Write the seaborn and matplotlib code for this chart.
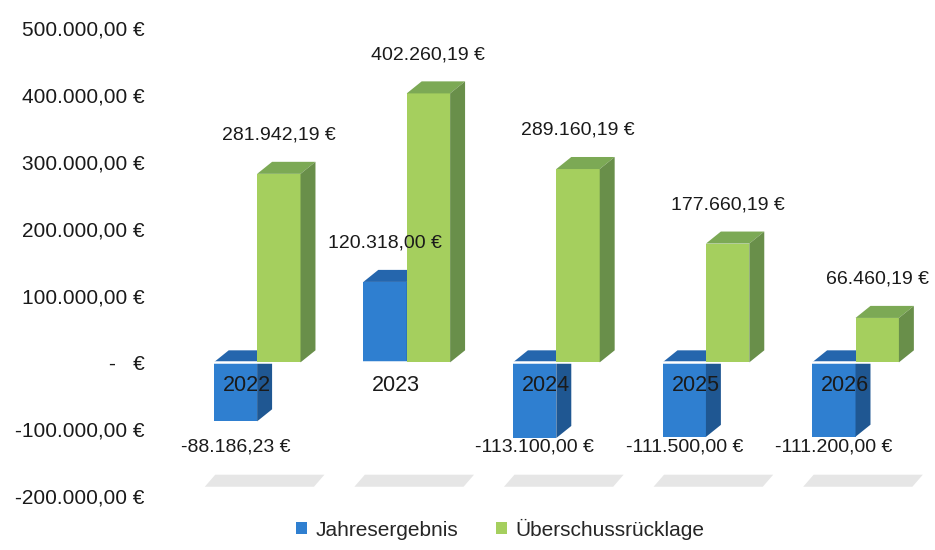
import numpy as np
import matplotlib
matplotlib.use("Agg")
import matplotlib.pyplot as plt
from matplotlib.patches import Polygon
import pandas as pd
import seaborn as sns

years = ["2022", "2023", "2024", "2025", "2026"]
jahresergebnis = [-88186.23, 120318.00, -113100.00, -111500.00, -111200.00]
ruecklage = [281942.19, 402260.19, 289160.19, 177660.19, 66460.19]
series = ["Jahresergebnis", "Überschussrücklage"]
yticks = [-200000, -100000, 0, 100000, 200000, 300000, 400000, 500000]

def eur(v):
    s = f"{abs(v):,.2f}".replace(",", "X").replace(".", ",").replace("X", ".")
    return ("-" if v < 0 else "") + s + " €"

def tick_fmt(v):
    if v == 0:
        return "-   €"
    return eur(v)

df = pd.DataFrame({
    "Jahr": years * 2,
    "Wert": jahresergebnis + ruecklage,
    "Reihe": [series[0]] * len(years) + [series[1]] * len(years),
})

sns.set_style("white")
plt.rcParams["font.family"] = ["Liberation Sans", "DejaVu Sans"]
txt = "#1a1a1a"

fig = plt.figure(figsize=(9.35, 5.5), dpi=100)
ax = fig.add_axes([0.195, 0.098, 0.80, 0.851])

front = {series[0]: "#2f7fd0", series[1]: "#a5cf5e"}
top_c = {series[0]: "#2566ad", series[1]: "#7ca955"}
side_c = {series[0]: "#1f5792", series[1]: "#698f4a"}

sns.barplot(data=df, x="Jahr", y="Wert", hue="Reihe", palette=front,
            width=0.58, saturation=1, linewidth=0, ax=ax, zorder=2)

# pseudo 3d depth
dx = 0.1
dy = 18000
for name, cont in zip(series, ax.containers):
    z = 2 if name == series[0] else 4
    for p in cont.patches:
        p.set_zorder(z)
        p.set_edgecolor("none")
        x0 = p.get_x()
        w = p.get_width()
        y0 = p.get_y()
        h = p.get_height()
        lo, hi = min(y0, y0 + h), max(y0, y0 + h)
        top = Polygon([(x0, hi), (x0 + w, hi), (x0 + w + dx, hi + dy), (x0 + dx, hi + dy)],
                      closed=True, facecolor=top_c[name], edgecolor="none", zorder=z)
        side = Polygon([(x0 + w, lo), (x0 + w + dx, lo + dy), (x0 + w + dx, hi + dy), (x0 + w, hi)],
                       closed=True, facecolor=side_c[name], edgecolor="none", zorder=z)
        ax.add_patch(top)
        ax.add_patch(side)

# floor shadows
for i in range(len(years)):
    sh = Polygon([(i - 0.35, -186000), (i + 0.38, -186000), (i + 0.45, -168000), (i - 0.28, -168000)],
                 closed=True, facecolor="#e6e6e6", edgecolor="none", zorder=1)
    ax.add_patch(sh)

ax.axhline(0, color="white", lw=1.8, zorder=3)

# value labels
for name, cont, vals in zip(series, ax.containers, [jahresergebnis, ruecklage]):
    for p, v in zip(cont.patches, vals):
        cx = p.get_x() + p.get_width() / 2
        if v >= 0:
            ax.text(cx, v + 45000, eur(v), ha="center", va="bottom", fontsize=14,
                    color=txt, zorder=6)
        else:
            ax.text(cx, -127000, eur(v), ha="center", va="center", fontsize=14,
                    color=txt, zorder=6)

# category labels
for i, yr in enumerate(years):
    ax.text(i - 0.07, -34000, yr, ha="center", va="center", fontsize=15.5,
            color=txt, zorder=6)

ax.set_ylim(-200000, 500000)
ax.set_xlim(-0.5, 4.5)
ax.set_yticks(yticks)
ax.set_yticklabels([tick_fmt(v) for v in yticks], fontsize=15, color=txt)
ax.set_xticks([])
ax.set_xlabel("")
ax.set_ylabel("")
ax.tick_params(axis="y", length=0, pad=27)
sns.despine(ax=ax, left=True, bottom=True)

handles, labels = ax.get_legend_handles_labels()
ax.get_legend().remove()
fig.legend(handles, labels, loc="lower center", bbox_to_anchor=(0.535, -0.015), ncol=2,
           frameon=False, fontsize=15, handlelength=0.55, handleheight=0.55,
           handletextpad=0.4, columnspacing=1.8)

fig.savefig("out.png", dpi=100)
